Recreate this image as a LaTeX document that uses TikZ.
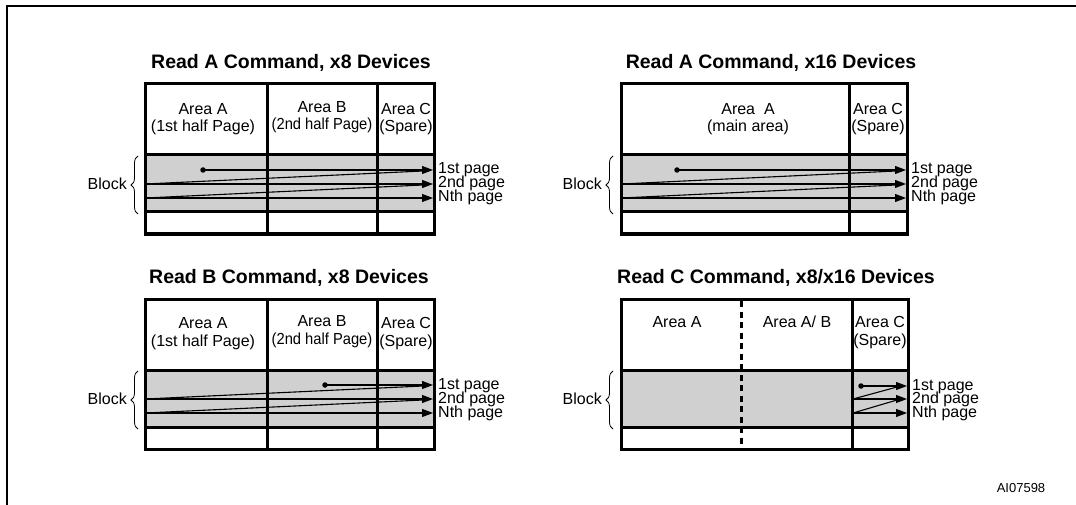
\documentclass[tikz,border=0pt]{standalone}
\usepackage{fontspec}
\setmainfont{Liberation Sans}
\usetikzlibrary{arrows.meta,decorations.pathreplacing}
\definecolor{cellgray}{RGB}{208,208,208}
\begin{document}
\begin{tikzpicture}[x=1pt,y=-1pt,
  tbl/.style={line width=3pt},
  arr/.style={line width=1.1pt,-{Triangle[length=11pt,width=8pt]}},
  thinln/.style={line width=1.1pt},
  hdr/.style={font=\fontsize{16}{18}\selectfont, inner sep=0pt},
  ttl/.style={font=\fontsize{19.5}{22}\selectfont\bfseries, inner sep=0pt},
  lbl/.style={font=\fontsize{16}{16}\selectfont, inner sep=0pt, anchor=west, text height=10pt, text depth=2pt},
  blk/.style={font=\fontsize{16}{18}\selectfont, inner sep=0pt, anchor=east},
  brc/.style={decorate, decoration={brace, amplitude=7pt}, line width=0.8pt},
  dotn/.style={circle, fill, inner sep=0pt, minimum size=5.5pt},
  dashln/.style={line width=3pt, dash pattern=on 6pt off 4.5pt}
]
\useasboundingbox (0,0) rectangle (1076,505);
% frame
\draw[line width=2pt] (1078,6) -- (7,6) -- (7,507);

% ---------- Table 1: Read A, x8 ----------
\node[ttl] (t1) at (291,63) {Read A Command, x8 Devices};
\fill[cellgray] (145,155) rectangle (434,212);
\draw[tbl] (145,84) rectangle (434,234);
\draw[tbl] (267,84) -- (267,234) (377,84) -- (377,234) (145,155) -- (434,155) (145,212) -- (434,212);
\node[hdr] (t1a1) at (203,109) {Area A};
\node[hdr] (t1a2) at (203,127) {(1st half Page)};
\node[hdr] (t1b1) at (322,107) {Area B};
\node[hdr] (t1b2) at (322,125) {\scalebox{0.92}[1]{(2nd half Page)}};
\node[hdr] (t1c1) at (406,109) {Area C};
\node[hdr] (t1c2) at (406,127) {(Spare)};
\node[dotn] (d1) at (203,170) {};
\coordinate (r1a) at (433,170); \coordinate (r1b) at (433,184); \coordinate (r1c) at (433,198);
\coordinate (l1b) at (145,184); \coordinate (l1c) at (145,198);
\coordinate (k1a) at (423,171); \coordinate (k1b) at (423,185);
\draw[arr] (d1.center) -- (r1a);
\draw[thinln] (k1a) -- (l1b);
\draw[arr] (l1b) -- (r1b);
\draw[thinln] (k1b) -- (l1c);
\draw[arr] (l1c) -- (r1c);
\node[lbl] (p11) at (438,170) {1st page};
\node[lbl] (p12) at (438,184) {2nd page};
\node[lbl] (p13) at (438,198) {Nth page};
\draw[brc] (138,214) -- (138,156);
\node[blk] (b1) at (127,184) {Block};

% ---------- Table 2: Read A, x16 ----------
\node[ttl] (t2) at (771,63) {Read A Command, x16 Devices};
\fill[cellgray] (621,155) rectangle (907,212);
\draw[tbl] (621,84) rectangle (907,234);
\draw[tbl] (849,84) -- (849,234) (621,155) -- (907,155) (621,212) -- (907,212);
\node[hdr] (t2a1) at (748,109) {Area~~A};
\node[hdr] (t2a2) at (748,127) {(main area)};
\node[hdr] (t2c1) at (878,109) {Area C};
\node[hdr] (t2c2) at (878,127) {(Spare)};
\node[dotn] (d2) at (677,170) {};
\coordinate (r2a) at (906,170); \coordinate (r2b) at (906,184); \coordinate (r2c) at (906,198);
\coordinate (l2b) at (621,184); \coordinate (l2c) at (621,198);
\coordinate (k2a) at (896,171); \coordinate (k2b) at (896,185);
\draw[arr] (d2.center) -- (r2a);
\draw[thinln] (k2a) -- (l2b);
\draw[arr] (l2b) -- (r2b);
\draw[thinln] (k2b) -- (l2c);
\draw[arr] (l2c) -- (r2c);
\node[lbl] (p21) at (911,170) {1st page};
\node[lbl] (p22) at (911,184) {2nd page};
\node[lbl] (p23) at (911,198) {Nth page};
\draw[brc] (613,214) -- (613,156);
\node[blk] (b2) at (602,184) {Block};

% ---------- Table 3: Read B, x8 ----------
\node[ttl] (t3) at (289,278) {Read B Command, x8 Devices};
\fill[cellgray] (145,370) rectangle (434,427);
\draw[tbl] (145,299) rectangle (434,449);
\draw[tbl] (267,299) -- (267,449) (377,299) -- (377,449) (145,370) -- (434,370) (145,427) -- (434,427);
\node[hdr] (t3a1) at (203,323) {Area A};
\node[hdr] (t3a2) at (203,342) {(1st half Page)};
\node[hdr] (t3b1) at (322,321) {Area B};
\node[hdr] (t3b2) at (322,340) {\scalebox{0.92}[1]{(2nd half Page)}};
\node[hdr] (t3c1) at (406,323) {Area C};
\node[hdr] (t3c2) at (406,342) {(Spare)};
\node[dotn] (d3) at (325,385) {};
\coordinate (r3a) at (433,385); \coordinate (r3b) at (433,399); \coordinate (r3c) at (433,413);
\coordinate (l3b) at (145,399); \coordinate (l3c) at (145,413);
\coordinate (k3a) at (423,386); \coordinate (k3b) at (423,400);
\draw[arr] (d3.center) -- (r3a);
\draw[thinln] (k3a) -- (l3b);
\draw[arr] (l3b) -- (r3b);
\draw[thinln] (k3b) -- (l3c);
\draw[arr] (l3c) -- (r3c);
\node[lbl] (p31) at (438,385) {1st page};
\node[lbl] (p32) at (438,399) {2nd page};
\node[lbl] (p33) at (438,413) {Nth page};
\draw[brc] (138,429) -- (138,371);
\node[blk] (b3) at (127,399) {Block};

% ---------- Table 4: Read C, x8/x16 ----------
\node[ttl] (t4) at (776,278) {Read C Command, x8/x16 Devices};
\fill[cellgray] (621,370) rectangle (908,427);
\draw[tbl] (621,299) rectangle (908,449);
\draw[tbl] (852,299) -- (852,449) (621,370) -- (908,370) (621,427) -- (908,427);
\draw[dashln] (741,301) -- (741,449);
\node[hdr] (t4a1) at (677,322) {Area A};
\node[hdr] (t4b1) at (797,322) {Area A/ B};
\node[hdr] (t4c1) at (880,322) {Area C};
\node[hdr] (t4c2) at (880,341) {(Spare)};
\node[dotn] (d4) at (861,386) {};
\coordinate (r4a) at (907,386); \coordinate (r4b) at (907,399); \coordinate (r4c) at (907,413);
\coordinate (l4b) at (853,399); \coordinate (l4c) at (853,413);
\coordinate (k4a) at (897,387); \coordinate (k4b) at (897,400);
\draw[arr] (d4.center) -- (r4a);
\draw[thinln] (k4a) -- (l4b);
\draw[arr] (l4b) -- (r4b);
\draw[thinln] (k4b) -- (l4c);
\draw[arr] (l4c) -- (r4c);
\node[lbl] (p41) at (912,386) {1st page};
\node[lbl] (p42) at (912,399) {2nd page};
\node[lbl] (p43) at (912,413) {Nth page};
\draw[brc] (613,429) -- (613,371);
\node[blk] (b4) at (602,399) {Block};

\node[font=\fontsize{13}{15}\selectfont, inner sep=0pt] (code) at (1021,488) {AI07598};
\end{tikzpicture}
\end{document}
